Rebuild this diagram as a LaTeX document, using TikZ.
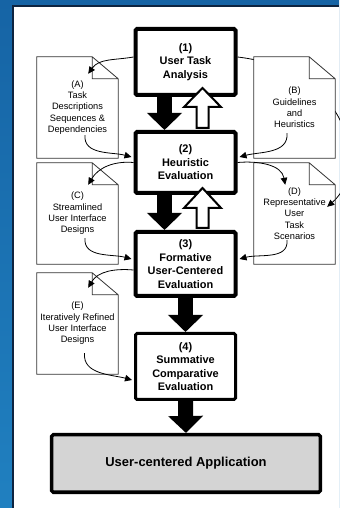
\documentclass[tikz,border=0pt]{standalone}
\usepackage{fontspec}
\setmainfont{Liberation Sans}
\usetikzlibrary{arrows.meta,calc}

\definecolor{rimblue}{RGB}{22,100,165}
\definecolor{rimlight}{RGB}{32,128,192}
\definecolor{rimdark}{RGB}{14,36,64}

\begin{document}
\begin{tikzpicture}[x=1bp,y=1bp,
  box/.style={draw,line width=4bp,rounded corners=1.5bp,fill=white,minimum width=100bp,inner sep=0pt,align=center,font=\fontsize{11}{13.5}\selectfont\bfseries},
  doc/.style={rectangle,fill=white,minimum width=81bp,minimum height=101bp,inner sep=0pt,align=center,font=\fontsize{9.3}{11.4}\selectfont},
  page/.style={draw=black!80,line width=0.8bp,line join=miter},
  flow/.style={line width=0.8bp,-{Triangle[length=7bp,width=6.5bp]}},
  bigdown/.style={line width=15bp,-{Triangle[length=17bp,width=34bp]}},
  hollowup/.style={draw,line width=2bp,fill=white,line join=miter}]
  \useasboundingbox (0,0) rectangle (339,508);
  \shade[top color=rimblue,bottom color=rimlight] (0,0) rectangle (339,508);
  \fill[white] (13,0) rectangle (339,502);
  \draw[rimdark,line width=1.5bp] (13,0) -- (13,502) -- (339,502);

  % steps
  \node[box,minimum height=66bp] (task) at (185.5,446) {(1)\\User Task\\Analysis};
  \node[box,minimum height=61bp] (heur) at (185.5,345.5) {(2)\\Heuristic\\Evaluation};
  \node[box,minimum height=64bp] (form) at (185.5,244) {(3)\\Formative\\User-Centered\\Evaluation};
  \node[box,line width=3bp,minimum height=66bp] (summ) at (185.5,141.5) {(4)\\Summative\\Comparative\\Evaluation};
  \node[box,line width=3.5bp,fill=black!17,minimum width=268.5bp,minimum height=57.5bp,font=\fontsize{13}{15}\selectfont\bfseries] (app) at (186,44.5) {User-centered Application};

  % documents
  \node[doc] (A) at (77.5,400.5) {(A)\\Task\\Descriptions\\Sequences \&\\Dependencies};
  \node[doc] (C) at (77.5,294.5) {(C)\\Streamlined\\User Interface\\Designs};
  \node[doc] (D) at (294.5,294.5) {(D)\\Representative\\User\\Task\\Scenarios};
  \node[doc] (E) at (77.5,184.5) {(E)\\Iteratively Refined\\User Interface\\Designs};
  \draw[flow] ([yshift=5bp]task.east) .. controls (350,438) and (370,338) .. ([xshift=-8bp,yshift=-44bp]D.north east);
  \node[doc] (B) at (294.5,400.5) {(B)\\Guidelines\\and\\Heuristics};
  \foreach \d in {A,B,C,D,E}
    \draw[page] (\d.north west) -- ($(\d.north east)+(-26,0)$) -- ($(\d.north east)+(0,-22)$)
      -- (\d.south east) -- (\d.south west) -- cycle
      ($(\d.north east)+(-26,0)$) |- ($(\d.north east)+(0,-22)$);

  % document flows
  \draw[flow] ([yshift=5bp]task.west) to[out=190,in=55] ([xshift=-30bp,yshift=-17bp]A.north east);
  \draw[flow] ([xshift=7.5bp,yshift=23bp]A.south) to[out=-95,in=165] ([xshift=-2bp,yshift=5.5bp]heur.west);
  \draw[flow] ([xshift=-7.5bp,yshift=25bp]B.south) to[out=-85,in=15] ([xshift=2bp,yshift=5.5bp]heur.east);
  \draw[flow] (heur.west) to[out=175,in=60] ([xshift=-30bp,yshift=-22bp]C.north east);
  \draw[flow] ([xshift=7.5bp,yshift=26bp]C.south) to[out=-95,in=165] ([xshift=-2bp,yshift=5bp]form.west);
  \draw[flow] (heur.east) to[out=5,in=100] ([xshift=-50bp,yshift=-22bp]D.north east);
  \draw[flow] ([xshift=-7.5bp,yshift=24bp]D.south) to[out=-85,in=15] ([xshift=2bp,yshift=5bp]form.east);
  \draw[flow] ([yshift=-6bp]form.west) to[out=175,in=60] ([xshift=-30bp,yshift=-15bp]E.north east);
  \draw[flow] ([xshift=7bp,yshift=21bp]E.south) to[out=-95,in=165] ([xshift=-2bp,yshift=-13.5bp]summ.west);

  % block arrows
  \draw[bigdown] ([xshift=-21bp]task.south) -- ([xshift=-21bp]heur.north);
  \draw[bigdown] ([xshift=-21bp]heur.south) -- ([xshift=-21bp]form.north);
  \draw[bigdown] (form.south) -- (summ.north);
  \draw[bigdown] (summ.south) -- (app.north);
  \draw[hollowup] ($(heur.north)+(11,2)$) -- ++(0,21) -- ++(-12.5,0) -- ++(18.5,19) -- ++(18.5,-19) -- ++(-12.5,0) -- ++(0,-21) -- cycle;
  \draw[hollowup] ($(form.north)+(11,2)$) -- ++(0,20) -- ++(-12.5,0) -- ++(18.5,20) -- ++(18.5,-20) -- ++(-12.5,0) -- ++(0,-20) -- cycle;
\end{tikzpicture}
\end{document}
